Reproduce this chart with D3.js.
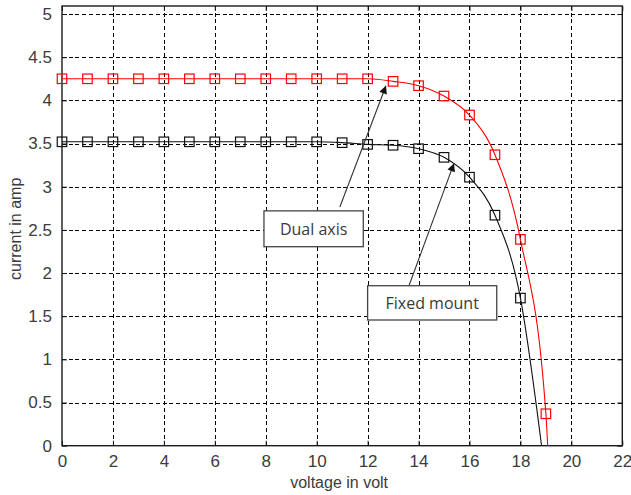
<!DOCTYPE html>
<html>
<head>
<meta charset="utf-8">
<script src="https://cdn.jsdelivr.net/npm/d3@7"></script>
<style>
  html, body { margin: 0; padding: 0; background: #fff; }
  svg { display: block; }
  .tick-label { font-family: "Liberation Sans", Arial, sans-serif; font-size: 17px; fill: #3c3c3c; }
  .axis-title { font-family: "Liberation Sans", Arial, sans-serif; font-size: 16px; fill: #3c3c3c; }
  .note-text { font-family: "Open Sans", "Noto Sans", sans-serif; font-size: 16px; fill: #3a3a3a; }
</style>
</head>
<body>
<svg id="chart" width="631" height="495"></svg>
<script>
// Voltage sample points (V) where markers are drawn
const voltage = [0, 1, 2, 3, 4, 5, 6, 7, 8, 9, 10, 11, 12, 13, 14, 15, 16, 17, 18, 19];
// Current (A) for the dual-axis tracker
const dualAxisCurrent = [4.25, 4.25, 4.25, 4.25, 4.25, 4.25, 4.25, 4.25, 4.25, 4.25, 4.25, 4.25, 4.25, 4.22, 4.17, 4.05, 3.83, 3.37, 2.39, 0.37];
// Current (A) for the fixed mount panel (markers up to 18 V)
const fixedMountCurrent = [3.52, 3.52, 3.52, 3.52, 3.52, 3.52, 3.52, 3.52, 3.52, 3.52, 3.52, 3.51, 3.49, 3.48, 3.44, 3.34, 3.11, 2.67, 1.71];
// Open-circuit voltages where each curve reaches zero current
const dualAxisVoc = 19.07;
const fixedMountVoc = 18.83;

// Axis ticks
const xTicks = [0, 2, 4, 6, 8, 10, 12, 14, 16, 18, 20, 22];
const yTicks = [0, 0.5, 1, 1.5, 2, 2.5, 3, 3.5, 4, 4.5, 5];
const xTickLabels = xTicks.map(String);
const yTickLabels = yTicks.map(String);

// Text annotations, positioned in data units
const noteLabels = ["Dual axis", "Fixed mount"];
const noteBoxes = [   // [x0, x1, yTop, yBottom]
  [7.93, 11.83, 2.72, 2.305],
  [12.0, 17.07, 1.853, 1.456]
];
const noteArrows = [  // [tailX, tailY, tipX, tipY]
  [10.91, 2.765, 12.72, 4.17],
  [13.62, 1.85, 15.39, 3.27]
];

const svg = d3.select("#chart");
const plotLeft = 62, plotRight = 622.3, plotTop = 6, plotBottom = 445.7;

const x = d3.scaleLinear().domain([0, 22]).range([plotLeft, plotRight]);
const y = d3.scaleLinear().domain([0, 5.093]).range([plotBottom, plotTop]);

// clip region for the plotted curves
svg.append("defs").append("clipPath").attr("id", "plotClip")
  .append("rect").attr("x", plotLeft).attr("y", plotTop)
  .attr("width", plotRight - plotLeft).attr("height", plotBottom - plotTop);

// dashed grid
const grid = svg.append("g").attr("stroke", "#000").attr("stroke-width", 1)
  .attr("stroke-dasharray", "4,2.7").attr("shape-rendering", "crispEdges");
grid.selectAll("line.vx").data(xTicks.slice(1, -1)).join("line")
  .attr("x1", d => Math.round(x(d)) + 0.5).attr("x2", d => Math.round(x(d)) + 0.5)
  .attr("y1", plotTop).attr("y2", plotBottom);
grid.selectAll("line.hy").data(yTicks.slice(1)).join("line")
  .attr("x1", plotLeft).attr("x2", plotRight)
  .attr("y1", d => Math.round(y(d)) + 0.5).attr("y2", d => Math.round(y(d)) + 0.5);

// axes with inward ticks on all sides (box style)
const frameColor = "#1a1a1a";
function styleAxis(g) {
  g.select(".domain").remove();
  g.selectAll(".tick line").attr("stroke", frameColor).attr("stroke-width", 1);
}
function styleLabels(g) {
  g.selectAll(".tick text").attr("class", "tick-label")
    .attr("font-size", null).attr("font-family", null).attr("fill", null);
}
svg.append("g").attr("transform", `translate(0,${plotBottom})`)
  .call(d3.axisBottom(x).tickValues(xTicks).tickFormat((d, i) => xTickLabels[i]).tickSizeInner(-5).tickSizeOuter(0).tickPadding(9))
  .call(styleAxis).call(styleLabels)
  .call(g => g.selectAll(".tick text").attr("dy", "0.71em"));
svg.append("g").attr("transform", `translate(0,${plotTop})`)
  .call(d3.axisTop(x).tickValues(xTicks).tickFormat("").tickSizeInner(-5).tickSizeOuter(0))
  .call(styleAxis);
svg.append("g").attr("transform", `translate(${plotLeft},0)`)
  .call(d3.axisLeft(y).tickValues(yTicks).tickFormat((d, i) => yTickLabels[i]).tickSizeInner(-5).tickSizeOuter(0).tickPadding(10))
  .call(styleAxis).call(styleLabels);
svg.append("g").attr("transform", `translate(${plotRight},0)`)
  .call(d3.axisRight(y).tickValues(yTicks).tickFormat("").tickSizeInner(-5).tickSizeOuter(0))
  .call(styleAxis);

// axes frame
svg.append("rect").attr("x", plotLeft).attr("y", plotTop)
  .attr("width", plotRight - plotLeft).attr("height", plotBottom - plotTop)
  .attr("fill", "none").attr("stroke", frameColor).attr("stroke-width", 1.4);

// axis titles
svg.append("text").attr("class", "axis-title").attr("x", (plotLeft + plotRight) / 2 - 3).attr("y", 488)
  .attr("text-anchor", "middle").text("voltage in volt");
svg.append("text").attr("class", "axis-title")
  .attr("transform", `translate(21,${(plotTop + plotBottom) / 2 + 3}) rotate(-90)`)
  .attr("text-anchor", "middle").text("current in amp");

// curves
const line = d3.line().x(d => x(d[0])).y(d => y(d[1])).curve(d3.curveMonotoneX);
const dualPts = voltage.map((v, i) => [v, dualAxisCurrent[i]]);
const fixedPts = fixedMountCurrent.map((c, i) => [voltage[i], c]);

const plot = svg.append("g").attr("clip-path", "url(#plotClip)");
const series = [
  { pts: dualPts, end: dualAxisVoc, color: "#ff0000" },
  { pts: fixedPts, end: fixedMountVoc, color: "#111111" }
];
const markerSize = 9.5;
series.forEach(s => {
  plot.append("path").datum(s.pts.concat([[s.end, 0]]))
    .attr("d", line).attr("fill", "none").attr("stroke", s.color).attr("stroke-width", 1.1);
  svg.append("g").selectAll("rect").data(s.pts).join("rect")
    .attr("x", d => x(d[0]) - markerSize / 2).attr("y", d => y(d[1]) - markerSize / 2)
    .attr("width", markerSize).attr("height", markerSize)
    .attr("fill", "none").attr("stroke", s.color).attr("stroke-width", 1.2);
});

// annotations: arrows and boxed labels
svg.append("defs").append("marker").attr("id", "arrowHead")
  .attr("viewBox", "0 0 10 10").attr("refX", 10).attr("refY", 5)
  .attr("markerWidth", 11).attr("markerHeight", 8).attr("markerUnits", "userSpaceOnUse")
  .attr("orient", "auto")
  .append("path").attr("d", "M0,0 L10,5 L0,10 Z").attr("fill", "#111");

noteArrows.forEach(a => {
  svg.append("line")
    .attr("x1", x(a[0])).attr("y1", y(a[1])).attr("x2", x(a[2])).attr("y2", y(a[3]))
    .attr("stroke", "#333").attr("stroke-width", 1.1).attr("marker-end", "url(#arrowHead)");
});
noteBoxes.forEach((b, i) => {
  const x0 = x(b[0]), x1 = x(b[1]), y0 = y(b[2]), y1 = y(b[3]);
  svg.append("rect").attr("x", x0).attr("y", y0).attr("width", x1 - x0).attr("height", y1 - y0)
    .attr("fill", "#fff").attr("stroke", "#444").attr("stroke-width", 1.3);
  svg.append("text").attr("class", "note-text")
    .attr("x", (x0 + x1) / 2).attr("y", (y0 + y1) / 2 + 6)
    .attr("text-anchor", "middle").text(noteLabels[i]);
});
</script>
</body>
</html>
